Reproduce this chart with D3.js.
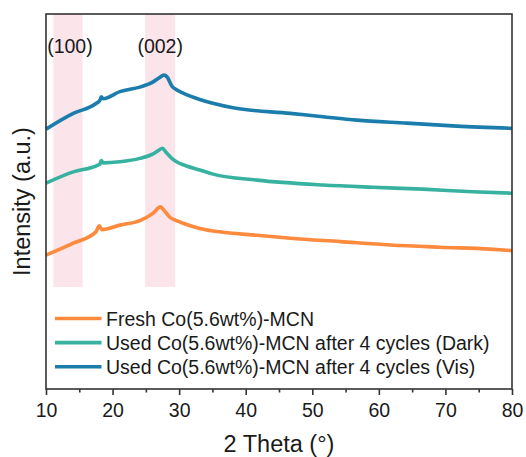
<!DOCTYPE html>
<html>
<head>
<meta charset="utf-8">
<script src="https://cdn.jsdelivr.net/npm/d3@7"></script>
<style>
  html, body { margin: 0; padding: 0; background: #fff; }
  svg { display: block; }
  text { font-family: "Liberation Sans", Arial, sans-serif; fill: #1a1a1a; }
</style>
</head>
<body>
<svg id="chart" width="526" height="457"></svg>
<script>
// XRD patterns (2θ in degrees, intensity in arbitrary units)
const freshTheta = [10, 14.1, 17.5, 18.0, 18.4, 21.1, 24.1, 26.1, 27.2, 27.7, 28.6, 29.6, 30.6, 33.1, 36.6, 41.7, 46.7, 54.2, 61.7, 69.2, 76.7, 80];
const freshI     = [35.7, 38.9, 41.9, 43.5, 42.5, 43.7, 44.9, 46.9, 48.6, 47.7, 45.8, 44.9, 44.2, 42.8, 41.8, 41.0, 40.2, 39.3, 38.4, 37.8, 37.3, 36.9];

const darkTheta = [10, 14.1, 17.8, 18.1, 18.3, 18.6, 21.1, 24.1, 26.1, 26.8, 27.5, 28.0, 28.9, 29.8, 30.6, 33.1, 35.1, 41.7, 51.6, 59.1, 66.6, 74.1, 80];
const darkI     = [54.9, 57.9, 59.7, 60.0, 60.9, 60.3, 60.6, 61.5, 62.7, 63.5, 64.2, 63.2, 61.5, 60.4, 59.8, 58.4, 57.3, 55.7, 54.4, 53.8, 53.3, 52.6, 52.2];

const visTheta = [10, 14.1, 17.4, 18.1, 18.3, 18.6, 21.1, 24.1, 26.1, 27.1, 27.7, 28.2, 28.9, 29.8, 30.6, 33.1, 38.1, 46.7, 51.6, 56.7, 64.2, 71.7, 80];
const visI     = [69.3, 73.5, 76.0, 77.0, 77.9, 77.4, 79.3, 80.5, 81.9, 83.1, 83.7, 83.2, 80.8, 79.6, 78.9, 77.2, 75.0, 73.5, 72.6, 71.7, 70.9, 70.1, 69.5];

const seriesNames = [
  "Fresh Co(5.6wt%)-MCN",
  "Used Co(5.6wt%)-MCN after 4 cycles (Dark)",
  "Used Co(5.6wt%)-MCN after 4 cycles (Vis)"
];
const seriesColors = ["#fd8a3d", "#37b2a0", "#1b7dab"];

// Highlighted reflections: [2θ start, 2θ end, label]
const bandStart = [11.1, 24.9];
const bandEnd   = [15.5, 29.4];
const bandLabel = ["(100)", "(002)"];

const xTicks = [10, 20, 30, 40, 50, 60, 70, 80];
const xMinorTicks = [15, 25, 35, 45, 55, 65, 75];

const series = [
  { name: seriesNames[0], color: seriesColors[0], pts: freshTheta.map((t, i) => [t, freshI[i]]) },
  { name: seriesNames[1], color: seriesColors[1], pts: darkTheta.map((t, i) => [t, darkI[i]]) },
  { name: seriesNames[2], color: seriesColors[2], pts: visTheta.map((t, i) => [t, visI[i]]) }
];

const svg = d3.select("#chart");
const m = { left: 46, right: 14, top: 14, bottom: 68 };
const W = 526, H = 457;
const x = d3.scaleLinear().domain([10, 80]).range([m.left, W - m.right]);
const y = d3.scaleLinear().domain([0, 100]).range([H - m.bottom, m.top]);

// shaded reflection bands
const bandBottom = 287;
svg.append("g").selectAll("rect")
  .data(bandStart.map((s, i) => ({ s, e: bandEnd[i], label: bandLabel[i] })))
  .join("rect")
  .attr("x", d => x(d.s))
  .attr("width", d => x(d.e) - x(d.s))
  .attr("y", m.top)
  .attr("height", bandBottom - m.top)
  .attr("fill", "#fbe4ea");

svg.append("g").selectAll("text")
  .data(bandStart.map((s, i) => ({ c: (s + bandEnd[i]) / 2, label: bandLabel[i] })))
  .join("text")
  .attr("x", (d, i) => x(d.c) + (i === 0 ? 2 : 0))
  .attr("y", 52.5)
  .attr("text-anchor", "middle")
  .attr("font-size", 19.5)
  .text(d => d.label);

// curves
const line = d3.line().x(d => x(d[0])).y(d => y(d[1])).curve(d3.curveMonotoneX);
svg.append("g").selectAll("path")
  .data(series)
  .join("path")
  .attr("d", d => line(d.pts))
  .attr("fill", "none")
  .attr("stroke", d => d.color)
  .attr("stroke-width", 3.6)
  .attr("stroke-linejoin", "round");

// frame
svg.append("rect")
  .attr("x", m.left).attr("y", m.top)
  .attr("width", W - m.right - m.left)
  .attr("height", H - m.bottom - m.top)
  .attr("fill", "none")
  .attr("stroke", "#333")
  .attr("stroke-width", 1.6);

// bottom axis
const xAxis = svg.append("g").attr("transform", `translate(0,${H - m.bottom})`);
xAxis.call(d3.axisBottom(x).tickValues(xTicks).tickSize(6).tickPadding(8).tickFormat(d3.format("d")));
xAxis.select(".domain").remove();
xAxis.selectAll(".tick line").attr("stroke", "#333").attr("stroke-width", 1.6);
xAxis.selectAll(".tick text").attr("font-size", 19.5).attr("fill", "#1a1a1a")
  .attr("font-family", "'Liberation Sans', Arial, sans-serif");
const xMinor = svg.append("g").attr("transform", `translate(0,${H - m.bottom})`);
xMinor.call(d3.axisBottom(x).tickValues(xMinorTicks).tickSize(3.5).tickFormat(""));
xMinor.select(".domain").remove();
xMinor.selectAll(".tick line").attr("stroke", "#333").attr("stroke-width", 1.6);

// axis titles
svg.append("text")
  .attr("x", (m.left + W - m.right) / 2)
  .attr("y", 452)
  .attr("text-anchor", "middle")
  .attr("font-size", 23.5)
  .text("2 Theta (°)");

svg.append("text")
  .attr("transform", `translate(30,${(m.top + H - m.bottom) / 2}) rotate(-90)`)
  .attr("text-anchor", "middle")
  .attr("font-size", 23.5)
  .text("Intensity (a.u.)");

// legend
const legend = svg.append("g");
const lgY = [318.5, 342.6, 366.7];
series.forEach((s, i) => {
  legend.append("line")
    .attr("x1", 55).attr("x2", 101.5)
    .attr("y1", lgY[i]).attr("y2", lgY[i])
    .attr("stroke", s.color).attr("stroke-width", 3.6);
  legend.append("text")
    .attr("x", 106).attr("y", lgY[i] + 7)
    .attr("font-size", 19.5)
    .text(s.name);
});
</script>
</body>
</html>
